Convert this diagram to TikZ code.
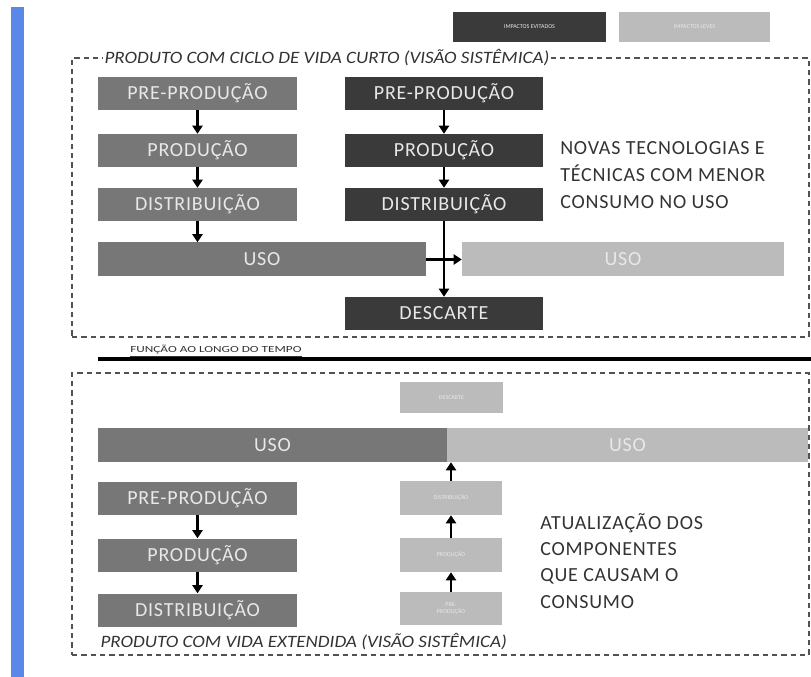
\documentclass[tikz,border=0pt]{standalone}
\usepackage{fontspec}
\usepackage{graphicx}
\setmainfont{Carlito}
\newfontfamily\cfont[LetterSpace=4]{Carlito}
\usetikzlibrary{arrows.meta}
\definecolor{midgray}{HTML}{777777}
\definecolor{darkgraybox}{HTML}{3A3A3A}
\definecolor{lightgraybox}{HTML}{BBBBBB}
\definecolor{boxtext}{HTML}{E8E8E8}
\definecolor{frametext}{HTML}{333333}
\definecolor{bluebar}{HTML}{5A88E8}
\begin{document}
\begin{tikzpicture}[x=0.75pt,y=-0.75pt,
  sz/.style 2 args={minimum width=#1*0.75pt, minimum height=#2*0.75pt},
  box/.style={rectangle, inner sep=0pt, text=boxtext, font=\cfont\fontsize{15}{17}\selectfont},
  tinybox/.style={rectangle, inner sep=0pt, text=boxtext, align=center, font=\fontsize{4.5}{5}\selectfont},
  mbox/.style={box, fill=midgray},
  dbox/.style={box, fill=darkgraybox},
  lbox/.style={box, fill=lightgraybox},
  colbox/.style={sz={199}{33}},
  arr/.style={line width=1.8pt, -{Triangle[width=7.5pt,length=6pt]}},
  frame/.style={rectangle, draw=frametext!85, line width=1pt, dash pattern=on 4pt off 3pt},
  flabel/.style={inner sep=1pt, text=frametext, font=\itshape\fontsize{13}{15}\selectfont},
  note/.style={anchor=north west, align=left, inner sep=0pt, text=frametext,
     font=\cfont\fontsize{15}{20.25}\selectfont},
]
\useasboundingbox (0,0) rectangle (811,677);
% blue side bar
\fill[bluebar] (11,7) rectangle (24,677);

% legend
\node[dbox, sz={153}{30}, font=\fontsize{4.5}{5}\selectfont] (legdark) at (529.5,27) {IMPACTOS EVITADOS};
\node[lbox, sz={151}{30}, font=\fontsize{4.5}{5}\selectfont] (leglight) at (694.5,27) {IMPACTOS LEVES};

% top frame
\node[frame, sz={737}{279}] (topframe) at (440.5,197.5) {};
\node[flabel, fill=white, anchor=west] (toplabel) at (103,58) {\scalebox{1.1}[1]{PRODUTO COM CICLO DE VIDA CURTO (VISÃO SISTÊMICA)}};

% top left column
\node[mbox, colbox] (lpre) at (197.5,93.5) {PRE-PRODUÇÃO};
\node[mbox, colbox] (lprod) at (197.5,150.5) {PRODUÇÃO};
\node[mbox, colbox] (ldist) at (197.5,204.5) {DISTRIBUIÇÃO};
\node[mbox, sz={328}{34}] (luso) at (262,259.5) {USO};
% top dark column
\node[dbox, sz={198}{33}] (dpre) at (444,93.5) {PRE-PRODUÇÃO};
\node[dbox, sz={198}{33}] (dprod) at (444,150.5) {PRODUÇÃO};
\node[dbox, sz={198}{33}] (ddist) at (444,204.5) {DISTRIBUIÇÃO};
\node[dbox, sz={198}{33}] (ddesc) at (444,313.5) {DESCARTE};
\node[lbox, sz={322}{34}] (ruso) at (623,259.5) {USO};

\draw[arr] (lpre) -- (lprod);
\draw[arr] (lprod) -- (ldist);
\draw[arr] (ldist.south) -- (ldist.south |- luso.north);
\draw[arr] (dpre) -- (dprod);
\draw[arr] (dprod) -- (ddist);
\draw[arr] (ddist) -- (ddesc);
\draw[arr] (luso) -- (ruso);

\node[note] (topnote) at (560,141) {NOVAS TECNOLOGIAS E\\TÉCNICAS COM MENOR\\CONSUMO NO USO};

% time line
\coordinate (tl0) at (98,359);
\coordinate (tl1) at (811,359);
\draw[line width=3pt] (tl0) -- (tl1);
\node[anchor=south west, inner sep=0pt, text=frametext, font=\fontsize{7}{8}\selectfont] (tlabel) at (130,357) {\scalebox{1.42}[1]{\underline{FUNÇÃO AO LONGO DO TEMPO}}};

% bottom frame
\node[frame, sz={737}{282}] (botframe) at (440.5,514) {};
\node[flabel, anchor=west] (botlabel) at (99,642) {\scalebox{1.1}[1]{PRODUTO COM VIDA EXTENDIDA (VISÃO SISTÊMICA)}};

\node[tinybox, fill=lightgraybox, sz={103}{31}] (bdesc) at (451.5,397.5) {DESCARTE};
\node[mbox, sz={349}{34}] (buso1) at (272.5,445) {USO};
\node[lbox, sz={361}{34}] (buso2) at (627.5,445) {USO};

\node[mbox, colbox] (bpre) at (197.5,498.5) {PRE-PRODUÇÃO};
\node[mbox, colbox] (bprod) at (197.5,555) {PRODUÇÃO};
\node[mbox, colbox] (bdist) at (197.5,610) {DISTRIBUIÇÃO};
\draw[arr] (bpre) -- (bprod);
\draw[arr] (bprod) -- (bdist);

\node[tinybox, fill=lightgraybox, sz={102}{34}] (sdist) at (451,498) {DISTRIBUIÇÃO};
\node[tinybox, fill=lightgraybox, sz={102}{34}] (sprod) at (451,555) {PRODUÇÃO};
\node[tinybox, fill=lightgraybox, sz={102}{33}] (spre) at (451,608.5) {PRE-\\PRODUÇÃO};
\draw[arr] (spre) -- (sprod);
\draw[arr] (sprod) -- (sdist);
\draw[arr] (sdist.north) -- (sdist.north |- buso1.south);

\node[note, font=\cfont\fontsize{15}{19.75}\selectfont] (botnote) at (540,513) {ATUALIZAÇÃO DOS\\COMPONENTES\\QUE CAUSAM O\\CONSUMO};
\end{tikzpicture}
\end{document}
